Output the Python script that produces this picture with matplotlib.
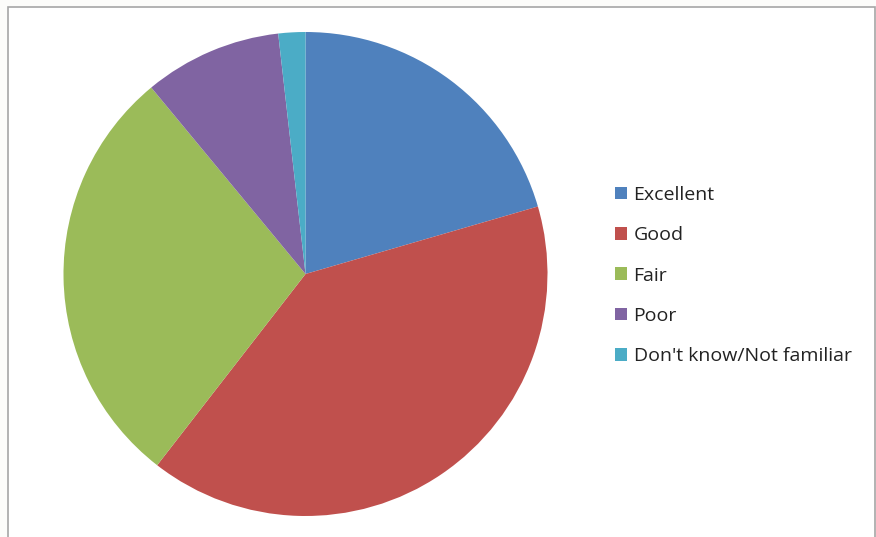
import matplotlib.pyplot as plt
from matplotlib.patches import Patch, Rectangle

categories = ["Excellent", "Good", "Fair", "Poor", "Don't know/Not familiar"]
shares = [20.5, 40.0, 28.5, 9.2, 1.8]
colors = ["#4F81BD", "#C0504D", "#9BBB59", "#8064A2", "#4BACC6"]

W, H = 876, 537
fig = plt.figure(figsize=(W / 100, H / 100), dpi=100)
fig.patch.set_facecolor("#FCFCFA")

# chart frame (open at the bottom edge of the canvas)
frame = Rectangle((8 / W, -0.05), (875 - 8) / W, 1 - 7 / H + 0.05,
                  transform=fig.transFigure, facecolor="white",
                  edgecolor="#A6A6A6", linewidth=1.2, zorder=-10)
fig.patches.append(frame)

cx, cy, r = 305.5, 274, 242
ax = fig.add_axes([(cx - r) / W, (H - cy - r) / H, 2 * r / W, 2 * r / H])
ax.set_zorder(5)
ax.pie(shares, colors=colors, startangle=90, counterclock=False,
       wedgeprops=dict(linewidth=0))
ax.set_aspect("equal")
ax.set_xlim(-1, 1)
ax.set_ylim(-1, 1)
ax.axis("off")

handles = [Patch(facecolor=c, edgecolor="none") for c in colors]
leg = fig.legend(handles, categories, loc="center left",
                 bbox_to_anchor=(597 / W, 1 - 275.5 / H), frameon=False,
                 prop=dict(family="Open Sans", size=14),
                 handlelength=0.62, handleheight=0.62, handletextpad=0.36,
                 labelspacing=1.15, labelcolor="#222222")
leg.set_zorder(6)

fig.savefig("out.png", dpi=100, facecolor=fig.get_facecolor())
